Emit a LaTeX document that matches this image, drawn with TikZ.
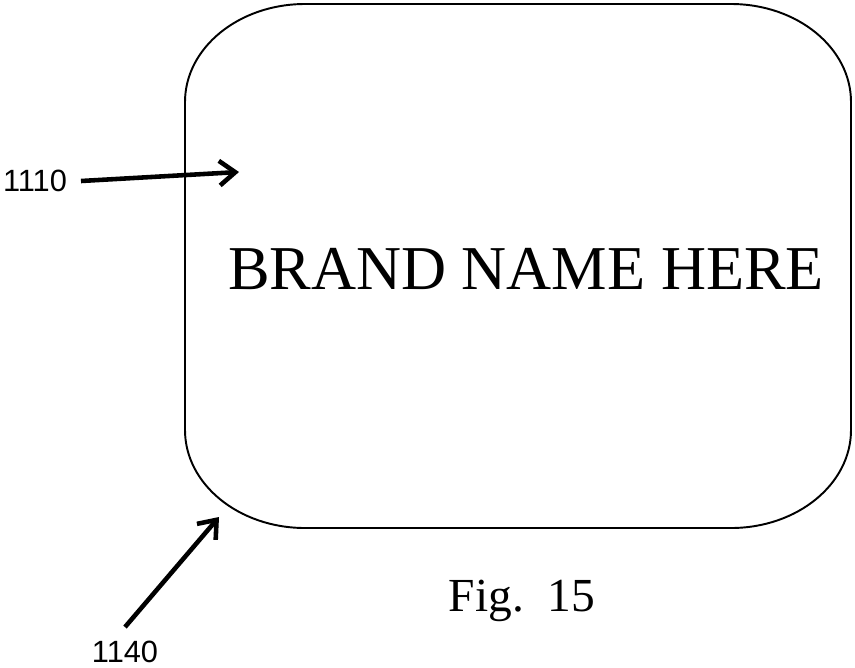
\documentclass[tikz,border=0pt]{standalone}
\usepackage{fontspec}
\setmainfont{Liberation Serif}
\newfontfamily\refsf{Liberation Sans}
\usetikzlibrary{arrows.meta}

\begin{document}
\begin{tikzpicture}[x=0.02cm,y=-0.02cm,
  refnum/.style={font=\refsf\fontsize{17.5}{18}\selectfont, inner sep=0pt, outer sep=8pt},
  lead/.style={-{Straight Barb[length=9pt,width=14pt]}, line width=2.6pt},
  frame/.style={line width=1.1pt}]
  \useasboundingbox (0,0) rectangle (855,667);
  % label outline
  \draw[frame] (185,102) -- (185,430)
    arc[start angle=180,end angle=90,x radius=120,y radius=98] -- (731,528)
    arc[start angle=90,end angle=0,x radius=120,y radius=98] -- (851,102)
    arc[start angle=0,end angle=-90,x radius=120,y radius=98] -- (305,4)
    arc[start angle=-90,end angle=-180,x radius=120,y radius=98] -- cycle;
  \node[anchor=base, inner sep=0pt, font=\fontsize{35.5}{36}\selectfont] (brand) at (526,289) {BRAND NAME HERE};
  \node[anchor=base, inner sep=0pt, font=\fontsize{27}{28}\selectfont] (fig) at (522,611) {Fig.\ \ 15};
  % reference numerals
  \node[refnum] (r1110) at (35,181) {1110};
  \node[refnum] (r1140) at (125,652) {1140};
  \coordinate (p1110) at (239,172);
  \coordinate (p1140) at (219,517);
  \draw[lead] (r1110.east) -- (p1110);
  \draw[lead] (r1140.north) -- (p1140);
\end{tikzpicture}
\end{document}
